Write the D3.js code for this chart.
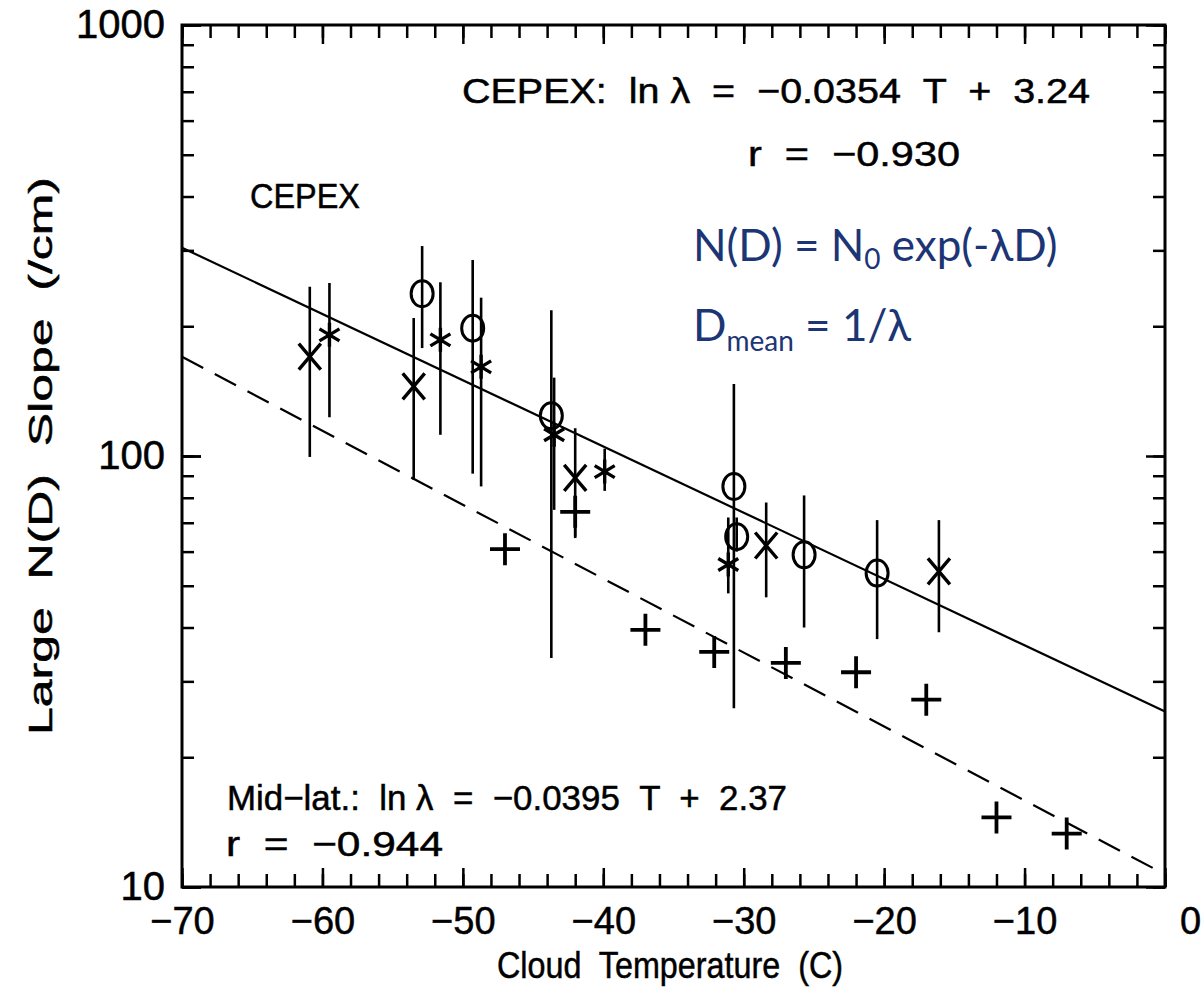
<!DOCTYPE html>
<html>
<head>
<meta charset="utf-8">
<script src="https://cdn.jsdelivr.net/npm/d3@7"></script>
<style>
  body { margin: 0; background: #fff; }
  svg text { white-space: pre; }
</style>
</head>
<body>
<div id="chart"></div>
<script>
// [T, lambda, errLow, errHigh]
const crossPts = [
    [-60.9, 170, 99.5, 247],
    [-53.5, 145, 88, 209],
    [-42.0, 89, 65, 116],
    [-28.4, 62, 47, 78],
    [-16.1, 54, 39, 71]
];
const starPts = [
    [-59.5, 191, 123, 252],
    [-51.6, 186, 112, 253],
    [-48.7, 161, 85, 233],
    [-43.5, 112, 75, 152],
    [-39.9, 92, 83, 104],
    [-31.1, 56, 48, 72]
];
const circlePts = [
    [-52.9, 238, 178, 307],
    [-49.3, 198, 91, 285],
    [-43.7, 124, 34, 218],
    [-30.7, 85, 26, 147],
    [-30.5, 65, 60, 72],
    [-25.7, 59, 40, 81],
    [-20.5, 53.5, 37.6, 71]
];
// mid-latitude points (only one has an error bar)
const plusPts = [
    [-47.0, 60.8, null, null],
    [-42.0, 74.2, 64.5, 79.9],
    [-37.0, 39.5, null, null],
    [-32.1, 35.1, null, null],
    [-27.0, 33.1, null, null],
    [-22.0, 31.5, null, null],
    [-17.0, 27.2, null, null],
    [-12.0, 14.5, null, null],
    [-7.0, 13.3, null, null]
];

// fit lines: ln(lambda) = a*T + b
const cepexFit = { a: -0.0354, b: 3.24 };
const midlatFit = { a: -0.0395, b: 2.37 };
const fitRange = [-70, 0];

const xMajor = [-70, -60, -50, -40, -30, -20, -10, 0];
const xLabels = ["\u221270", "\u221260", "\u221250", "\u221240", "\u221230", "\u221220", "\u221210", "0"];
const yMajor = [10, 100, 1000];

const W = 1203, H = 995;
const pL = 182, pR = 1165, pT = 25, pB = 887;
const font = "'Liberation Sans', Arial, sans-serif";

const svg = d3.select("#chart").append("svg")
    .attr("width", W).attr("height", H);

const x = d3.scaleLinear().domain([-70, 0]).range([pL, pR]);
const y = d3.scaleLog().domain([10, 1000]).range([pB, pT]);

// ---- axes (ticks inward on all four sides)
const xMinor = d3.range(-70, 0.1, 2);
const yMinor = y.ticks();

function axisG(axis, tx, ty) {
    const g = svg.append("g").attr("transform", `translate(${tx},${ty})`).call(axis);
    g.select(".domain").remove();
    g.selectAll("line").attr("stroke", "#000").attr("stroke-width", 2.5);
    return g;
}

axisG(d3.axisBottom(x).tickValues(xMinor).tickSize(-13).tickFormat(""), 0, pB);
axisG(d3.axisTop(x).tickValues(xMinor).tickSize(-13).tickFormat(""), 0, pT);
axisG(d3.axisTop(x).tickValues(xMajor).tickSize(-19).tickFormat(""), 0, pT);
axisG(d3.axisLeft(y).tickValues(yMinor).tickSize(-12).tickFormat(""), pL, 0);
axisG(d3.axisRight(y).tickValues(yMinor).tickSize(-12).tickFormat(""), pR, 0);
axisG(d3.axisLeft(y).tickValues(yMajor).tickSize(-19).tickFormat(""), pL, 0);
axisG(d3.axisRight(y).tickValues(yMajor).tickSize(-19).tickFormat(""), pR, 0);

const xb = axisG(d3.axisBottom(x).tickValues(xMajor).tickSize(-19).tickPadding(20)
    .tickFormat((d, i) => xLabels[i]), 0, pB);
xb.selectAll("text").attr("font-family", font).attr("font-size", 38)
    .attr("fill", "#000").attr("stroke", "#000").attr("stroke-width", 0.5);
xb.selectAll("text").filter(d => d === 0).attr("dx", 25);

const yl = axisG(d3.axisLeft(y).tickValues(yMajor).tickSize(-19).tickPadding(17)
    .tickFormat(d3.format("d")), pL, 0);
yl.selectAll("text").attr("font-family", font).attr("font-size", 40)
    .attr("fill", "#000").attr("stroke", "#000").attr("stroke-width", 0.5);

// frame
svg.append("rect")
    .attr("x", pL).attr("y", pT)
    .attr("width", pR - pL).attr("height", pB - pT)
    .attr("fill", "none").attr("stroke", "#000").attr("stroke-width", 3);

// ---- fit lines
const fitLine = d3.line().x(d => x(d[0])).y(d => y(d[1]));
function fitPts(f) { return fitRange.map(t => [t, Math.exp(f.a * t + f.b)]); }

svg.append("path").attr("d", fitLine(fitPts(cepexFit)))
    .attr("fill", "none").attr("stroke", "#000").attr("stroke-width", 2.2);
svg.append("path").attr("d", fitLine(fitPts(midlatFit)))
    .attr("fill", "none").attr("stroke", "#000").attr("stroke-width", 2.2)
    .attr("stroke-dasharray", "24,13");

// ---- error bars
const allPts = crossPts.concat(starPts, circlePts, plusPts).filter(d => d[2] != null);
svg.append("g").selectAll("line").data(allPts).join("line")
    .attr("x1", d => x(d[0])).attr("x2", d => x(d[0]))
    .attr("y1", d => y(d[2])).attr("y2", d => y(d[3]))
    .attr("stroke", "#000").attr("stroke-width", 2.6);

// ---- markers
const mk = svg.append("g").attr("stroke", "#000").attr("fill", "none")
    .attr("stroke-width", 3.4).attr("stroke-linecap", "butt");

mk.selectAll(".cross").data(crossPts).join("path").attr("class", "cross")
    .attr("transform", d => `translate(${x(d[0])},${y(d[1])})`)
    .attr("d", "M-11,-13L11,13M11,-13L-11,13");

mk.selectAll(".star").data(starPts).join("path").attr("class", "star")
    .attr("transform", d => `translate(${x(d[0])},${y(d[1])})`)
    .attr("d", "M0,-12V12M-10,-6L10,6M10,-6L-10,6");

mk.selectAll(".circ").data(circlePts).join("ellipse").attr("class", "circ")
    .attr("stroke-width", 3)
    .attr("cx", d => x(d[0])).attr("cy", d => y(d[1]))
    .attr("rx", 11).attr("ry", 13);

mk.selectAll(".plus").data(plusPts).join("path").attr("class", "plus")
    .attr("stroke-width", 3.8)
    .attr("transform", d => `translate(${x(d[0])},${y(d[1])})`)
    .attr("d", "M-15,0H15M0,-16V16");

// ---- text
function label(txt, tx, ty, size, len) {
    const t = svg.append("text").attr("x", tx).attr("y", ty)
        .attr("font-family", font).attr("font-size", size)
        .attr("fill", "#000").attr("stroke", "#000").attr("stroke-width", 0.5)
        .text(txt);
    if (len) t.attr("textLength", len).attr("lengthAdjust", "spacingAndGlyphs");
    return t;
}

label("CEPEX:  ln \u03bb  =  \u22120.0354  T  +  3.24", 462, 103, 35, 628);
label("r  =  \u22120.930", 748, 166, 35, 212);
label("CEPEX", 250, 208, 35, 110);
label("Mid\u2212lat.:  ln \u03bb  =  \u22120.0395  T  +  2.37", 227, 810, 35, 560);
label("r  =  \u22120.944", 226, 856, 35, 217);

label("Cloud  Temperature  (C)", 497, 978, 37, 346);
label("Large  N(D)  Slope  (/cm)", 0, 0, 34, 558)
    .attr("transform", "translate(52,735) rotate(-90)");

// blue formulas
const blue = "#1c3575";
const bf = "Lato, 'Noto Sans', sans-serif";
const t1 = svg.append("text").attr("x", 693).attr("y", 261)
    .attr("font-family", bf).attr("font-size", 44).attr("fill", blue);
t1.append("tspan").text("N(D) = N");
t1.append("tspan").attr("font-size", 28).attr("dy", 8).text("0");
t1.append("tspan").attr("dy", -8).text(" exp(-\u03bbD)");

const t2 = svg.append("text").attr("x", 693).attr("y", 341)
    .attr("font-family", bf).attr("font-size", 44).attr("fill", blue);
t2.append("tspan").text("D");
t2.append("tspan").attr("font-size", 28).attr("dy", 10).text("mean");
t2.append("tspan").attr("dy", -10).text(" = 1/\u03bb");
</script>
</body>
</html>
